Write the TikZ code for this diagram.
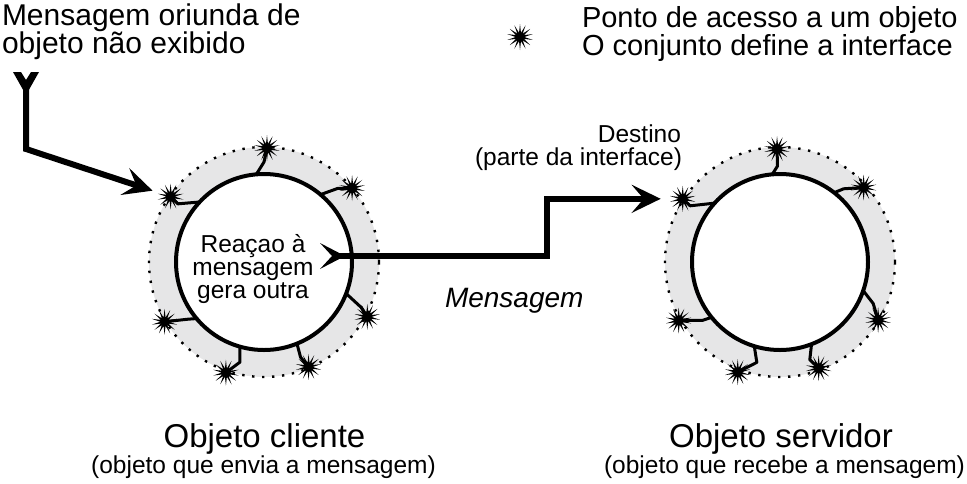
\documentclass[tikz,border=0pt]{standalone}
\usepackage{fontspec}
\setmainfont{Liberation Sans}
\usetikzlibrary{arrows.meta,shapes.geometric}
\definecolor{ringgray}{HTML}{E6E6E7}
\begin{document}
\begin{tikzpicture}[x=1pt,y=1pt,
  ringbg/.style={circle, fill=ringgray, minimum size=230pt, inner sep=0pt, outer sep=0pt},
  core/.style={circle, draw=black, fill=white, line width=4pt, minimum size=176pt, inner sep=0pt, outer sep=0pt},
  dotring/.style={line width=2.4pt, dash pattern=on 2.4pt off 7.6pt},
  burst/.style={star, star points=14, star point ratio=3, fill=black, minimum size=26pt, inner sep=0pt, outer sep=0pt},
  conn/.style={line width=3pt, line join=round},
  msg/.style={line width=6pt, line join=miter,
    arrows={-Stealth[length=29pt,width=28pt,inset=12pt]}},
  lbl/.style={inner sep=0pt, outer sep=0pt},
  big/.style={lbl, font=\fontsize{29pt}{28pt}\selectfont},
  mid/.style={lbl, font=\fontsize{24.5pt}{24pt}\selectfont},
  title/.style={lbl, font=\fontsize{33pt}{34pt}\selectfont},
]
\useasboundingbox (0,0) rectangle (967,-483);
\coordinate (C1) at (264,-262);
\coordinate (C2) at (780,-262);

% rings
\node[ringbg] (ring1) at (C1) {};
\node[ringbg] (ring2) at (C2) {};
\draw[dotring] (C1) circle (115);
\draw[dotring] (C2) circle (115);
\node[core] (core1) at (C1) {};
\node[core] (core2) at (C2) {};

% access points, client
\foreach \i/\sa/\sr/\ma/\mr/\ca in {1/88.5/114/90/100/95, 2/40/115/45/104/50, 3/145/114/146/104/137, 4/-28/117/-25/107/-21, 5/-149/116/-143/95/-140, 6/-109/117/-103.5/103/-106.5, 7/-67/114/-69/102/-68}{
  \node[burst] (c1s\i) at ([shift={(\sa:\sr)}]C1) {};
  \draw[conn] (core1.\ca) -- ([shift={(\ma:\mr)}]C1) -- (c1s\i.center);
}
% access points, server
\foreach \i/\sa/\sr/\ma/\mr/\ca in {1/91.5/113/91.5/96/95, 2/41.7/112/49/97/52, 3/147/116/148/106/138, 4/-30.6/114/-24/102/-19, 5/-150/117/-143/97/-141, 6/-111/118/-103/103/-107, 7/-70/113/-73/102/-69}{
  \node[burst] (c2s\i) at ([shift={(\sa:\sr)}]C2) {};
  \draw[conn] (core2.\ca) -- ([shift={(\ma:\mr)}]C2) -- (c2s\i.center);
}

% legend
\node[burst] (legstar) at (520,-37) {};
\node[big, anchor=base west] (leg1) at (582,-27) {Ponto de acesso a um objeto};
\node[big, anchor=base west] (leg2) at (582,-55) {O conjunto define a interface};

% incoming message
\node[lbl, anchor=base west, font=\fontsize{30pt}{28pt}\selectfont] (src1) at (2,-25) {Mensagem oriunda de};
\node[lbl, anchor=base west, font=\fontsize{30pt}{28pt}\selectfont] (src2) at (2,-53) {objeto não exibido};
\coordinate (tail1) at (26,-83);
\coordinate (bend1) at (26,-149);
\fill[shift={(tail1)}] (-13,11) -- (-5,11) -- (0,3) -- (5,11) -- (13,11) -- (0,-12) -- cycle;
\draw[msg, shorten >=19pt] (tail1) -- (bend1) -- (c1s3.center);

% message client -> server
\coordinate (tail2) at (332,-256);
\coordinate (bend2) at (547,-256);
\fill[shift={(tail2)}] (-12,13) -- (0,0) -- (-12,-13) -- (13,0) -- cycle;
\draw[msg, shorten >=22pt] (tail2) -- (bend2) |- (c2s3.center);

% labels
\node[mid, anchor=base] (r1) at (253,-252) {Reaçao à};
\node[mid, anchor=base] (r2) at (253,-275) {mensagem};
\node[mid, anchor=base] (r3) at (253,-298) {gera outra};
\node[mid, anchor=base east] (d1) at (681,-142) {Destino};
\node[mid, anchor=base east] (d2) at (682,-165) {(parte da interface)};
\node[lbl, anchor=base west, font=\fontsize{28pt}{28pt}\selectfont\itshape] (m1) at (445,-307) {Mensagem};
\node[title, anchor=base] (o1) at (264.5,-447) {Objeto cliente};
\node[mid, anchor=base] (o1s) at (263.5,-473) {(objeto que envia a mensagem)};
\node[title, anchor=base] (o2) at (781,-447) {Objeto servidor};
\node[mid, anchor=base] (o2s) at (784.5,-473) {(objeto que recebe a mensagem)};
\end{tikzpicture}
\end{document}
